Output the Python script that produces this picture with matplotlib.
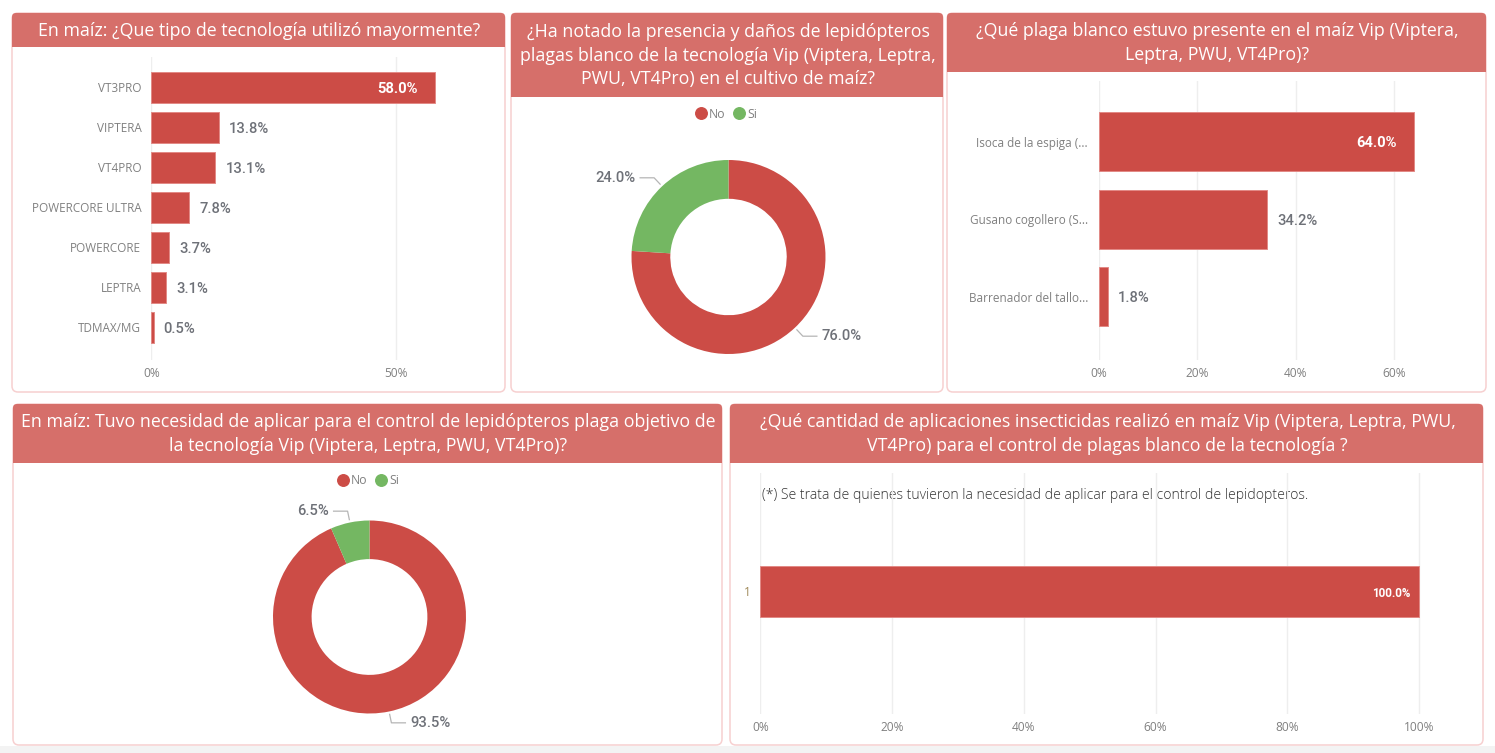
"""Encuesta maiz: tablero de tecnologia Vip y lepidopteros."""

import matplotlib
matplotlib.use("Agg")
import matplotlib.pyplot as plt
import numpy as np
from matplotlib.lines import Line2D
from matplotlib.patches import FancyBboxPatch, Rectangle

W, H = 1495, 753
RED = "#cc4c46"
GREEN = "#74b762"
HEADER = "#d66f6a"
BORDER = "#f7d0d0"
EDGE = "#e28a86"
GRID = "#eeeeee"
TICK = "#808080"
VALUE = "#6e7178"

tech_names = ["VT3PRO", "VIPTERA", "VT4PRO", "POWERCORE ULTRA", "POWERCORE", "LEPTRA", "TDMAX/MG"]
tech_values = [58.0, 13.8, 13.1, 7.8, 3.7, 3.1, 0.5]
tech_ticks = [0, 50]

pest_names = ["Isoca de la espiga (...", "Gusano cogollero (S...", "Barrenador del tallo..."]
pest_values = [64.0, 34.2, 1.8]
pest_ticks = [0, 20, 40, 60]

apps_names = ["1"]
apps_values = [100.0]
apps_ticks = [0, 20, 40, 60, 80, 100]

donut_labels = ["No", "Si"]
noticed_values = [76.0, 24.0]
needed_values = [93.5, 6.5]

titles = [
    "En maíz: ¿Que tipo de tecnología utilizó mayormente?",
    "¿Ha notado la presencia y daños de lepidópteros\nplagas blanco de la tecnología Vip (Viptera, Leptra,\nPWU, VT4Pro) en el cultivo de maíz?",
    "¿Qué plaga blanco estuvo presente en el maíz Vip (Viptera,\nLeptra, PWU, VT4Pro)?",
    "En maíz: Tuvo necesidad de aplicar para el control de lepidópteros plaga objetivo de\nla tecnología Vip (Viptera, Leptra, PWU, VT4Pro)?",
    "¿Qué cantidad de aplicaciones insecticidas realizó en maíz Vip (Viptera, Leptra, PWU,\nVT4Pro) para el control de plagas blanco de la tecnología ?",
]
note = "(*) Se trata de quienes tuvieron la necesidad de aplicar para el control de lepidopteros."

# panel boxes in pixels: left, top, right, bottom, header bottom
panels = [
    (12, 13, 505, 392, 47),
    (511, 13, 943, 392, 97),
    (947, 13, 1486, 392, 72),
    (13, 404, 722, 745, 463),
    (730, 404, 1483, 745, 463),
]

plt.rcParams["font.family"] = ["Open Sans", "DejaVu Sans"]
fig = plt.figure(figsize=(W / 100, H / 100), dpi=100, facecolor="white")


def px_axes(left, top, right, bottom):
    return fig.add_axes([left / W, 1 - bottom / H, (right - left) / W, (bottom - top) / H])


back = fig.add_axes([0, 0, 1, 1])
back.set_xlim(0, W)
back.set_ylim(H, 0)
back.axis("off")
back.add_patch(Rectangle((0, 746), W, H - 746, color="#f3f3f3", lw=0))
for (left, top, right, bottom, head), title in zip(panels, titles):
    back.add_patch(FancyBboxPatch((left, top), right - left, bottom - top,
                                  boxstyle="round,pad=0,rounding_size=6",
                                  fc="white", ec=BORDER, lw=1.1))
    back.add_patch(FancyBboxPatch((left, top), right - left, head - top,
                                  boxstyle="round,pad=0,rounding_size=4",
                                  fc=HEADER, lw=0))
    back.add_patch(Rectangle((left, head - 8), right - left, 8, fc=HEADER, lw=0))
    back.text((left + right) / 2 + 1, (top + head) / 2 + 0.5, title, color="white", fontsize=12.8,
              ha="center", va="center", linespacing=1.4)


def bar_panel(box, names, values, ticks, xscale, step, bar_px, pad, label_size=10.6, inside_gap=17):
    left, top, right, bottom, first_center = box
    ax = px_axes(left, top, right, bottom)
    pos = np.arange(len(values))
    ax.barh(pos, values, height=bar_px / step, color=RED, edgecolor=EDGE, linewidth=0.7)
    ax.set_xlim(0, (right - left) / xscale)
    ax.set_ylim((bottom - first_center) / step, (top - first_center) / step)
    ax.set_yticks(pos, names)
    ax.set_xticks(ticks, [f"{t}%" for t in ticks])
    ax.tick_params(axis="y", length=0, pad=pad * 0.72, labelcolor="#808080", labelsize=8.45)
    ax.tick_params(axis="x", length=0, pad=5, labelcolor=TICK, labelsize=8.6)
    ax.grid(axis="x", color=GRID, lw=1)
    ax.set_axisbelow(True)
    ax.patch.set_alpha(0)
    for spine in ax.spines.values():
        spine.set_visible(False)
    for y, v in zip(pos, values):
        if v > 50:
            ax.annotate(f"{v:.1f}%", (v, y), xytext=(-inside_gap * 0.72, -1.2), textcoords="offset points",
                        ha="right", va="center", color="white", fontsize=label_size,
                        family="Roboto", weight="bold")
        else:
            ax.annotate(f"{v:.1f}%", (v, y), xytext=(10 * 0.72, -1.2), textcoords="offset points",
                        ha="left", va="center", color=VALUE, fontsize=label_size,
                        family="Roboto", weight="medium")
    return ax


def donut_panel(cx, cy, radius, values, legend_x, legend_y):
    half = radius * 1.7
    ax = px_axes(cx - half, cy - half, cx + half, cy + half)
    ax.pie(values, colors=[RED, GREEN], startangle=90, counterclock=False, radius=1,
           wedgeprops={"width": 0.4, "linewidth": 0})
    ax.set_xlim(-1.7, 1.7)
    ax.set_ylim(-1.7, 1.7)
    total = sum(values)
    seen = 0.0
    for v in values:
        mid = np.deg2rad(90 - 360 * (seen + v / 2) / total)
        seen += v
        x0, y0 = 1.03 * np.cos(mid), 1.03 * np.sin(mid)
        x1, y1 = 1.12 * np.cos(mid), 1.12 * np.sin(mid)
        side = 1 if x1 > 0 else -1
        x2 = x1 + side * 14 / radius
        ax.plot([x0, x1, x2], [y0, y1, y1], color="#b5b5b5", lw=0.9)
        ax.text(x2 + side * 5 / radius, y1, f"{v:.1f}%", color=VALUE, fontsize=10.6,
                ha="left" if side > 0 else "right", va="center", family="Roboto", weight="medium")
    handles = [Line2D([], [], ls="", marker="o", ms=8.3, color=c) for c in (RED, GREEN)]
    fig.legend(handles, donut_labels, ncol=2, frameon=False, loc="center",
               bbox_to_anchor=(legend_x / W, 1 - legend_y / H), fontsize=8.8, labelcolor=TICK,
               handletextpad=-0.35, columnspacing=0.1, borderpad=0)


bar_panel((151.3, 57, 490, 360, 87.5), tech_names, tech_values, tech_ticks, 4.89, 40, 31, 10)
bar_panel((1099, 81, 1470, 360, 141.5), pest_names, pest_values, pest_ticks, 4.915, 77.5, 59, 11)
ax5 = bar_panel((760.5, 473, 1460, 714, 591.5), apps_names, apps_values, apps_ticks, 6.585, 51, 51, 10,
                label_size=8.4, inside_gap=9)
ax5.tick_params(axis="y", labelcolor="#a08a5a")

donut_panel(728.5, 257, 97, noticed_values, 723, 114)
donut_panel(369.5, 617, 96.5, needed_values, 365, 480.5)

back.text(762, 495, note, color="#333333", fontsize=10.1, ha="left", va="center", zorder=10, weight="light")
fig.savefig("out.png", dpi=100, facecolor="white")
